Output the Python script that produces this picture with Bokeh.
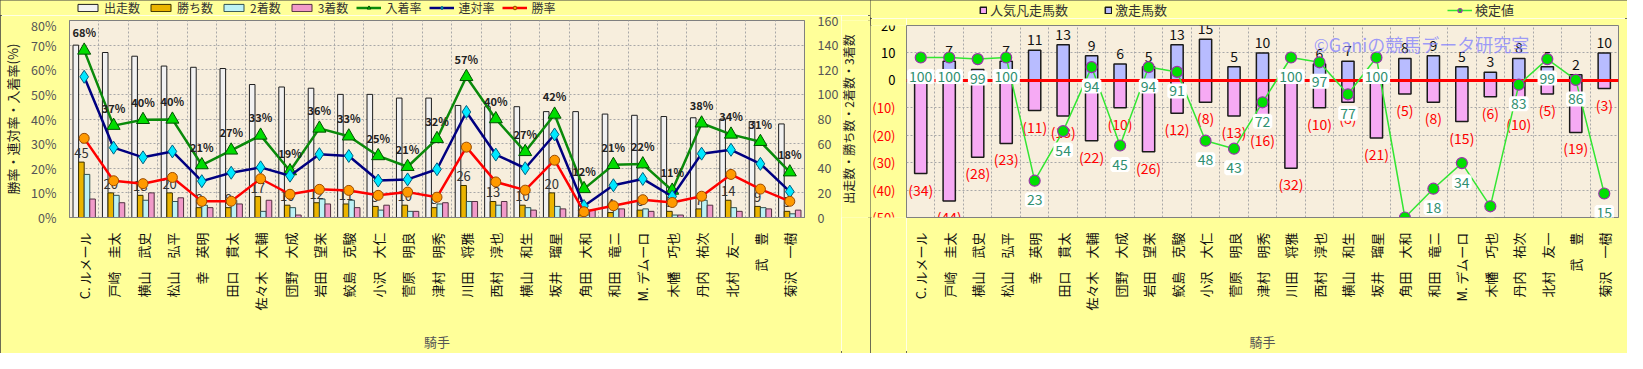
import math
from bokeh.plotting import figure
from bokeh.models import (ColumnDataSource, LinearAxis, Range1d, Legend, LegendItem,
                          LabelSet, Label, FixedTicker)
from bokeh.layouts import row, column
from bokeh.embed import file_html
from bokeh.resources import INLINE
from bokeh.core.properties import value
from bokeh.transform import dodge

# ---------------- data ----------------
jockeys = ["C. ルメール", "戸崎　圭太", "横山　武史", "松山　弘平", "幸　英明", "田口　貫太",
           "佐々木　大輔", "団野　大成", "岩田　望来", "鮫島　克駿", "小沢　大仁", "菅原　明良",
           "津村　明秀", "川田　将雅", "西村　淳也", "横山　和生", "坂井　瑠星", "角田　大和",
           "和田　竜二", "M. デムーロ", "木幡　巧也", "丹内　祐次", "北村　友一", "武　豊", "菊沢　一樹"]
runs = [140, 134, 131, 123, 122, 121, 108, 106, 105, 100, 100, 97, 97, 91, 90, 90, 86, 86, 84, 83, 82, 81, 80, 78, 76]
wins = [45, 20, 18, 20, 8, 8, 17, 10, 12, 11, 9, 10, 8, 26, 13, 10, 20, 2, 4, 6, 5, 7, 14, 9, 5]
seconds = [35, 18, 14, 13, 10, 14, 5, 8, 15, 14, 6, 5, 11, 13, 10, 8, 9, 2, 7, 7, 2, 14, 8, 8, 3]
thirds = [15, 12, 20, 16, 8, 11, 14, 2, 11, 8, 10, 5, 12, 13, 13, 6, 7, 6, 7, 5, 2, 10, 5, 7, 6]
rate_ticks = [0, 10, 20, 30, 40, 50, 60, 70, 80]
count_ticks = [0, 20, 40, 60, 80, 100, 120, 140, 160]

popular_fail = [34, 44, 28, 23, 11, 13, 22, 10, 26, 12, 8, 13, 16, 32, 10, 8, 21, 5, 8, 15, 6, 10, 5, 19, 3]
surge = [0, 7, 4, 7, 11, 13, 9, 6, 5, 13, 15, 5, 10, 0, 6, 7, 0, 8, 9, 5, 3, 8, 5, 2, 10]
kentei = [100, 100, 99, 100, 23, 54, 94, 45, 94, 91, 48, 43, 72, 100, 97, 77, 100, 0, 18, 34, 7, 83, 99, 86, 15]
diff_ticks = [20, 10, 0, -10, -20, -30, -40, -50]
diff_tick_labels = ["20", "10", "0", "(10)", "(20)", "(30)", "(40)", "(50)"]
diff_tick_colors = ["#000000", "#000000", "#000000", "#FF0000", "#FF0000", "#FF0000", "#FF0000", "#FF0000"]

FONT = "Noto Sans CJK JP"
BG = "#F7EEDD"
BORDER = "#FFFF99"
PANEL_OUTLINE = {"outline": "2px solid #3c3c3c", "outline-offset": "-2px"}
idx = list(range(len(jockeys)))
names = {i: n for i, n in zip(idx, jockeys)}

# styles
C_RUNS = dict(fill_color="#F2F2F2", line_color="#1e1e1e", line_width=1)
C_WINS = dict(fill_color="#EBB400", line_color="#3a3000", line_width=1)
C_SEC = dict(fill_color="#BDF2F6", line_color="#305050", line_width=1)
C_THI = dict(fill_color="#F19AC9", line_color="#503040", line_width=1)
L_PLACE = dict(line_color="#0A8A0A", line_width=2.5)
M_PLACE = dict(marker="triangle", size=13, fill_color="#00DD00", line_color="#005000", line_width=1)
L_QUIN = dict(line_color="#000080", line_width=2.5)
M_QUIN = dict(marker="diamond", size=13, fill_color="#00E8FF", line_color="#006080", line_width=1)
L_WIN = dict(line_color="#FF0000", line_width=2.5)
M_WIN = dict(marker="circle", size=10, fill_color="#FF9A00", line_color="#9A4A00", line_width=1)
C_FAIL = dict(fill_color="#F6AAF4", line_color="#1a1a1a", line_width=1.5)
C_SURGE = dict(fill_color="#B8BCFF", line_color="#1a1a1a", line_width=1.5)
L_K = dict(line_color="#33E633", line_width=1.5)
M_K = dict(marker="circle", size=11, fill_color="#00E000", line_color="#9933AA", line_width=1.2)

win_rate = [w / r * 100 for w, r in zip(wins, runs)]
quin_rate = [(w + s) / r * 100 for w, s, r in zip(wins, seconds, runs)]
place_rate = [(w + s + t) / r * 100 for w, s, t, r in zip(wins, seconds, thirds, runs)]

src1 = ColumnDataSource(dict(
    x=idx, runs=runs, wins=wins, seconds=seconds, thirds=thirds,
    win_rate=win_rate, quin_rate=quin_rate, place_rate=place_rate,
    win_lbl=[str(w) for w in wins],
    place_lbl=[f"{round(v)}%" for v in place_rate],
))


def style_common(p):
    p.xaxis.ticker = FixedTicker(ticks=idx)
    p.xaxis.major_label_overrides = names
    p.xaxis.major_label_orientation = math.pi / 2
    p.xaxis.major_label_text_font = FONT
    p.xaxis.major_label_text_font_size = "13px"
    p.xaxis.major_label_text_color = "#111111"
    p.xaxis.major_label_standoff = 9
    p.xaxis.major_tick_line_color = None
    p.xaxis.minor_tick_line_color = None
    p.xaxis.axis_line_color = "#808080"
    p.xaxis.axis_label = "騎手"
    p.xaxis.axis_label_text_font = FONT
    p.xaxis.axis_label_text_font_style = "normal"
    p.xaxis.axis_label_text_font_size = "13px"
    p.xaxis.axis_label_text_color = "#555555"
    p.xaxis.axis_label_standoff = 18
    p.xgrid.ticker = FixedTicker(ticks=[i + 0.5 for i in idx[:-1]])
    p.xgrid.grid_line_color = "#A8A8A8"
    p.xgrid.grid_line_dash = "2 2"
    p.ygrid.grid_line_color = "#A8A8A8"
    p.ygrid.grid_line_dash = "2 2"


def strip(width, height, y_range=None, top=0, bottom=0):
    s = figure(width=width, height=height, x_range=Range1d(0, 1),
               y_range=y_range if y_range is not None else Range1d(0, 1),
               output_backend="svg", toolbar_location=None,
               min_border_left=0, min_border_right=0, min_border_top=top, min_border_bottom=bottom,
               background_fill_color=BORDER, border_fill_color=BORDER, outline_line_color=None)
    s.axis.visible = False
    s.grid.visible = False
    return s


# legend proxies live outside the strip's visible 0..1 window
PX = [-2, -1]
PY = [-1, -1]

# ---------------- left chart ----------------
p1 = figure(width=841, height=338, x_range=Range1d(-0.5, 24.5), y_range=Range1d(0, 80),
            output_backend="svg", toolbar_location=None,
            min_border_left=58, min_border_right=32, min_border_top=5, min_border_bottom=134,
            background_fill_color=BG, border_fill_color=BORDER, outline_line_color="#808080")
p1.extra_y_ranges = {"cnt": Range1d(0, 160)}
style_common(p1)

bw = 0.19
p1.vbar(x=dodge("x", -0.285), top="runs", width=bw, y_range_name="cnt", source=src1, **C_RUNS)
p1.vbar(x=dodge("x", -0.095), top="wins", width=bw, y_range_name="cnt", source=src1, **C_WINS)
p1.vbar(x=dodge("x", 0.095), top="seconds", width=bw, y_range_name="cnt", source=src1, **C_SEC)
p1.vbar(x=dodge("x", 0.285), top="thirds", width=bw, y_range_name="cnt", source=src1, **C_THI)

p1.text(x=dodge("x", -0.095), y="wins", text="win_lbl", y_range_name="cnt", source=src1,
        text_align="center", text_baseline="bottom", y_offset=-4,
        text_font=value(FONT), text_font_size="13px", text_color="#333333")

p1.line("x", "place_rate", source=src1, **L_PLACE)
p1.scatter("x", "place_rate", source=src1, **M_PLACE)
p1.line("x", "quin_rate", source=src1, **L_QUIN)
p1.scatter("x", "quin_rate", source=src1, **M_QUIN)
p1.line("x", "win_rate", source=src1, **L_WIN)
p1.scatter("x", "win_rate", source=src1, **M_WIN)

p1.text(x="x", y="place_rate", text="place_lbl", source=src1,
        text_align="center", text_baseline="bottom", y_offset=-10,
        text_font=value(FONT), text_font_size="11px", text_font_style="bold", text_color="#222222")

p1.yaxis.ticker = FixedTicker(ticks=rate_ticks)
p1.yaxis.major_label_overrides = {t: f"{t}%" for t in rate_ticks}
p1.yaxis.axis_label = "勝率・連対率・入着率(%)"
ax_r = LinearAxis(y_range_name="cnt", ticker=FixedTicker(ticks=count_ticks))
p1.add_layout(ax_r, "right")
for ax in (p1.yaxis[0], ax_r):
    ax.major_label_text_font = FONT
    ax.major_label_text_font_size = "12.5px"
    ax.major_label_text_color = "#555555"
    ax.major_tick_line_color = None
    ax.minor_tick_line_color = None
    ax.axis_line_color = "#808080"
    ax.major_label_standoff = 7
p1.yaxis.axis_label_text_font = FONT
p1.yaxis.axis_label_text_font_style = "normal"
p1.yaxis.axis_label_text_color = "#222222"
p1.yaxis.axis_label_text_font_size = "13px"
p1.yaxis.axis_label_standoff = 6

# right-axis title strip (reads bottom-to-top like the reference)
t1 = strip(29, 338, p1.extra_y_ranges["cnt"], 5, 134)
t1.text(x=[0], y=[(count_ticks[0] + count_ticks[-1]) / 2], text=["出走数・勝ち数・2着数・3着数"],
        angle=math.pi / 2, x_offset=7, text_align="center", text_baseline="middle",
        text_font=value(FONT), text_font_size="12px", text_color="#222222")

# legend strip for the left chart
s1 = strip(870, 15)
e_runs = s1.vbar(x=PX, top=PY, width=0.1, **C_RUNS)
e_wins = s1.vbar(x=PX, top=PY, width=0.1, **C_WINS)
e_sec = s1.vbar(x=PX, top=PY, width=0.1, **C_SEC)
e_thi = s1.vbar(x=PX, top=PY, width=0.1, **C_THI)
e_lp = s1.line(x=PX, y=PY, **L_PLACE)
e_mp = s1.scatter(x=PX, y=PY, **M_PLACE)
e_lq = s1.line(x=PX, y=PY, **L_QUIN)
e_mq = s1.scatter(x=PX, y=PY, **M_QUIN)
e_lw = s1.line(x=PX, y=PY, **L_WIN)
e_mw = s1.scatter(x=PX, y=PY, **M_WIN)
leg1 = Legend(items=[
    LegendItem(label="出走数", renderers=[e_runs]),
    LegendItem(label="勝ち数", renderers=[e_wins]),
    LegendItem(label="2着数", renderers=[e_sec]),
    LegendItem(label="3着数", renderers=[e_thi]),
    LegendItem(label="入着率", renderers=[e_lp, e_mp]),
    LegendItem(label="連対率", renderers=[e_lq, e_mq]),
    LegendItem(label="勝率", renderers=[e_lw, e_mw]),
], orientation="horizontal", location=(75, -1), padding=0, margin=0, spacing=8,
    label_standoff=4, glyph_width=25, glyph_height=9,
    label_text_font=FONT, label_text_font_size="12px", label_text_color="#333333",
    background_fill_alpha=0, border_line_color=None)
s1.add_layout(leg1)

# ---------------- right chart ----------------
src2 = ColumnDataSource(dict(
    x=idx, fail_neg=[-v for v in popular_fail], surge=surge, kentei=kentei,
    fail_lbl=[f"({v})" for v in popular_fail],
    surge_lbl=[str(v) if v else "" for v in surge],
    kentei_lbl=[str(v) for v in kentei],
))
src_ticks = ColumnDataSource(dict(y=diff_ticks, lbl=diff_tick_labels, col=diff_tick_colors,
                                  x=[1] * len(diff_ticks)))

p2 = figure(width=721, height=335, x_range=Range1d(-0.5, 24.5), y_range=Range1d(-50, 20),
            output_backend="svg", toolbar_location=None,
            min_border_left=0, min_border_right=9, min_border_top=7, min_border_bottom=133,
            background_fill_color=BG, border_fill_color=BORDER, outline_line_color="#808080")
p2.extra_y_ranges = {"kentei": Range1d(0, 120)}
style_common(p2)
p2.yaxis.visible = False
p2.ygrid.ticker = FixedTicker(ticks=diff_ticks)

# tick-label strip sharing the right chart's y scale
ptk = strip(36, 335, p2.y_range, 7, 133)
ptk.text(x="x", y="y", text="lbl", source=src_ticks, text_align="right", text_baseline="middle",
         x_offset=-11, text_color="col", text_font=value(FONT), text_font_size="13px")

p2.vbar(x="x", top=0, bottom="fail_neg", width=0.43, source=src2, **C_FAIL)
p2.vbar(x="x", bottom=0, top="surge", width=0.43, source=src2, **C_SURGE)
p2.hspan(y=[0], line_color="#FF0000", line_width=3)

p2.text(x="x", y="fail_neg", text="fail_lbl", source=src2, text_align="center",
        text_baseline="top", y_offset=6, text_font=value(FONT), text_font_size="14px",
        text_color="#FF0000")
p2.text(x="x", y="surge", text="surge_lbl", source=src2, text_align="center",
        text_baseline="bottom", y_offset=-5, text_font=value(FONT), text_font_size="14px",
        text_color="#111111")

p2.line("x", "kentei", y_range_name="kentei", source=src2, **L_K)
p2.scatter("x", "kentei", y_range_name="kentei", source=src2, **M_K)

p2.add_layout(LabelSet(x="x", y="kentei", y_range_name="kentei", text="kentei_lbl", source=src2,
                       text_align="center", text_baseline="middle", y_offset=-19,
                       text_font=value(FONT), text_font_size="14px", text_color="#2F8F70",
                       background_fill_color="white", border_line_color="white",
                       border_line_width=4))

p2.add_layout(Label(x=13.8, y=13.2, text="©Ganiの競馬データ研究室", text_align="left",
                    text_baseline="middle", text_font=FONT, text_font_size="18px",
                    text_color="#7F7FFF", text_alpha=0.75))

# legend strip for the right chart
s2 = strip(757, 18)
f_fail = s2.vbar(x=PX, top=PY, width=0.1, **C_FAIL)
f_surge = s2.vbar(x=PX, top=PY, width=0.1, **C_SURGE)
f_lk = s2.line(x=PX, y=PY, **L_K)
f_mk = s2.scatter(x=PX, y=PY, **M_K)
leg2 = Legend(items=[
    LegendItem(label="人気凡走馬数", renderers=[f_fail]),
    LegendItem(label="激走馬数", renderers=[f_surge]),
], orientation="horizontal", location=(109, -1), padding=0, margin=0, spacing=36,
    label_standoff=3, glyph_width=8, glyph_height=8,
    label_text_font=FONT, label_text_font_size="13px", label_text_color="#333333",
    background_fill_alpha=0, border_line_color=None)
leg3 = Legend(items=[LegendItem(label="検定値", renderers=[f_lk, f_mk])],
              orientation="horizontal", location=(577, -1), padding=0, margin=0,
              label_standoff=3, glyph_width=25, glyph_height=10,
              label_text_font=FONT, label_text_font_size="13px", label_text_color="#333333",
              background_fill_alpha=0, border_line_color=None)
s2.add_layout(leg2)
s2.add_layout(leg3)

left_panel = column(s1, row(p1, t1, spacing=0), spacing=0)
left_panel.styles = PANEL_OUTLINE
right_panel = column(s2, row(ptk, p2, spacing=0), spacing=0)
right_panel.styles = PANEL_OUTLINE
layout = row(left_panel, right_panel, spacing=0)
open("out.html", "w").write(file_html(layout, INLINE))
